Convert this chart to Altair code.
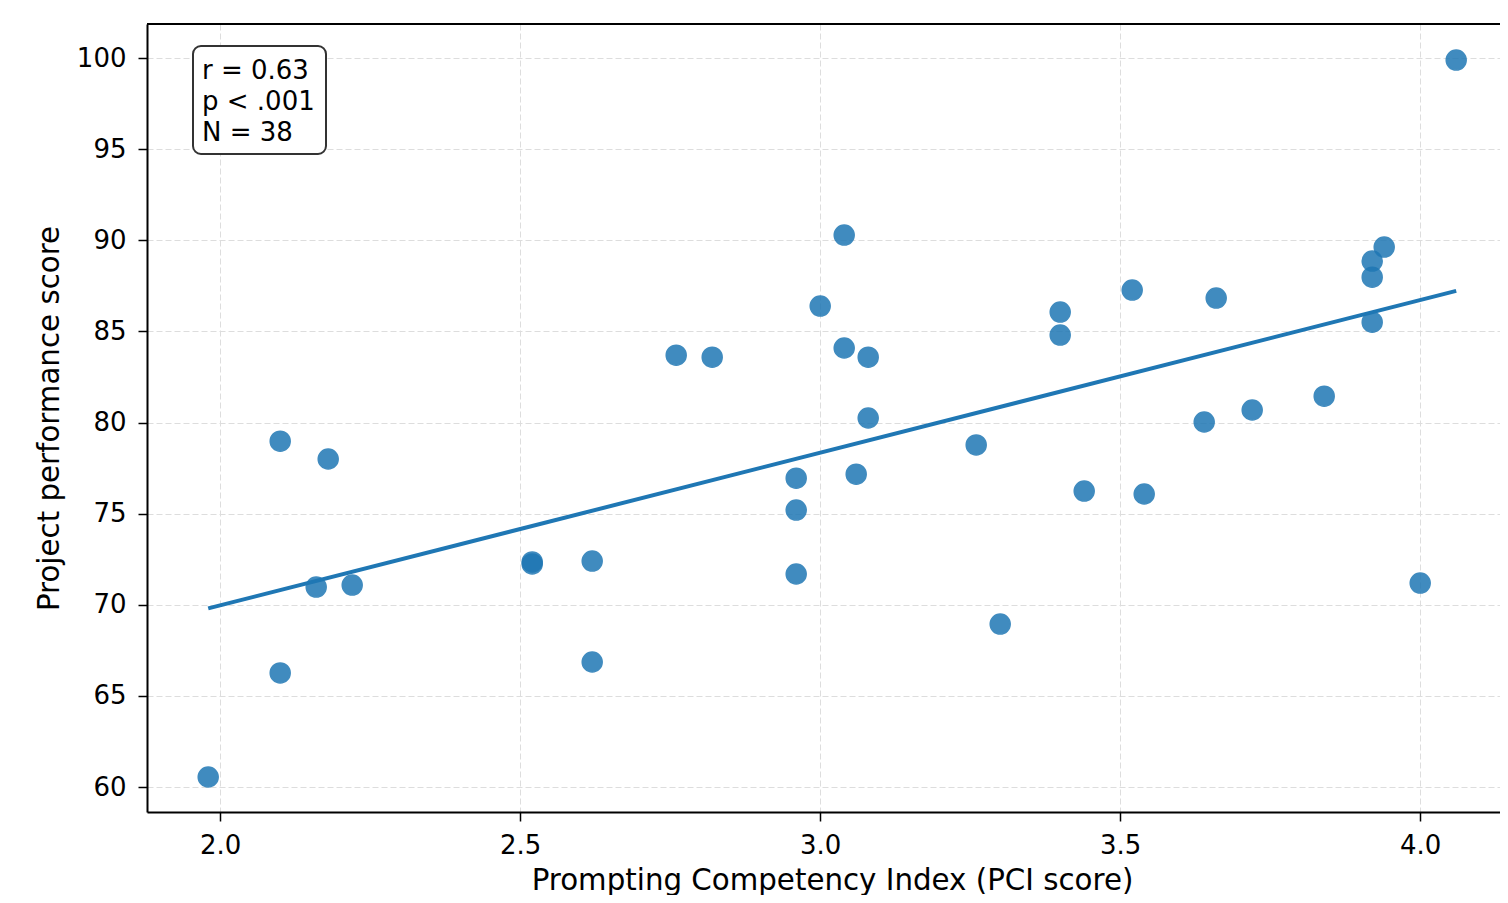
import altair as alt
import pandas as pd

pci = [1.98, 2.10, 2.10, 2.16, 2.18, 2.22, 2.52, 2.52, 2.62, 2.62,
       2.76, 2.82, 2.96, 2.96, 2.96, 3.00, 3.04, 3.04, 3.08, 3.08,
       3.06, 3.26, 3.30, 3.40, 3.40, 3.44, 3.52, 3.54, 3.64, 3.66,
       3.72, 3.84, 3.92, 3.92, 3.92, 3.94, 4.00, 4.06]
score = [60.55, 78.98, 66.26, 70.97, 78.0, 71.08, 72.35, 72.24, 72.4, 66.86,
         83.70, 83.59, 76.95, 75.2, 71.69, 86.39, 90.29, 84.09, 83.59, 80.25,
         77.17, 78.77, 68.94, 86.06, 84.80, 76.24, 87.27, 76.08, 80.03, 86.83,
         80.69, 81.45, 88.86, 87.98, 85.51, 89.63, 71.19, 99.89]

x_ticks = [2.0, 2.5, 3.0, 3.5, 4.0]
y_ticks = [60, 65, 70, 75, 80, 85, 90, 95, 100]
stats_lines = ["r = 0.63", "p < .001", "N = 38"]

df = pd.DataFrame({"pci": pci, "score": score})

FONT = "DejaVu Sans"
BLUE = "#1f77b4"
W, H = 1353, 788

xs = alt.Scale(domain=[1.878, 4.133], nice=False, zero=False)
ys = alt.Scale(domain=[58.63, 101.87], nice=False, zero=False)

x_enc = alt.X("pci:Q", scale=xs,
              axis=alt.Axis(values=x_ticks, format=".1f", titleX=685,
                            title="Prompting Competency Index (PCI score)"))
y_enc = alt.Y("score:Q", scale=ys,
              axis=alt.Axis(values=y_ticks, format="d",
                            title="Project performance score"))

base = alt.Chart(df)

points = base.mark_circle(size=400, color=BLUE, opacity=0.85,
                          stroke=BLUE, strokeWidth=1.5).encode(x=x_enc, y=y_enc)

line = base.transform_regression("pci", "score").mark_line(
    color=BLUE, strokeWidth=4).encode(x=x_enc, y=y_enc)

one = pd.DataFrame({"a": [0]})

top_spine = alt.Chart(one).mark_rule(color="black", strokeWidth=2).encode(
    x=alt.value(0), x2=alt.value(W), y=alt.value(0))

box = alt.Chart(one).mark_rect(
    fill="white", stroke="#333333", strokeWidth=2, cornerRadius=8
).encode(x=alt.value(46), x2=alt.value(179), y=alt.value(22), y2=alt.value(130))

txt = alt.Chart(one).mark_text(
    align="left", baseline="alphabetic", font=FONT, fontSize=26,
    lineHeight=31, color="black"
).encode(x=alt.value(55), y=alt.value(55), text=alt.value(stats_lines))

chart = alt.layer(points, line, top_spine, box, txt).properties(
    width=W, height=H,
    autosize=alt.AutoSizeParams(type="none"),
    padding={"left": 139, "top": 16, "right": 0, "bottom": 83},
).configure_view(
    stroke="transparent", strokeWidth=0
).configure_axis(
    domain=True, domainColor="black", domainWidth=2,
    grid=True, gridColor="#dddddd", gridDash=[6, 3], gridWidth=1,
    ticks=True, tickColor="black", tickSize=9, tickWidth=1.5,
    labelFont=FONT, labelFontSize=26, labelColor="black",
    titleFont=FONT, titleFontSize=29.3, titleColor="black",
    titleFontWeight="normal",
).configure_axisX(
    labelPadding=11, titlePadding=8
).configure_axisY(
    labelPadding=12, titlePadding=12
)

chart.save("out.html", embed_options={"renderer": "svg", "actions": False})
